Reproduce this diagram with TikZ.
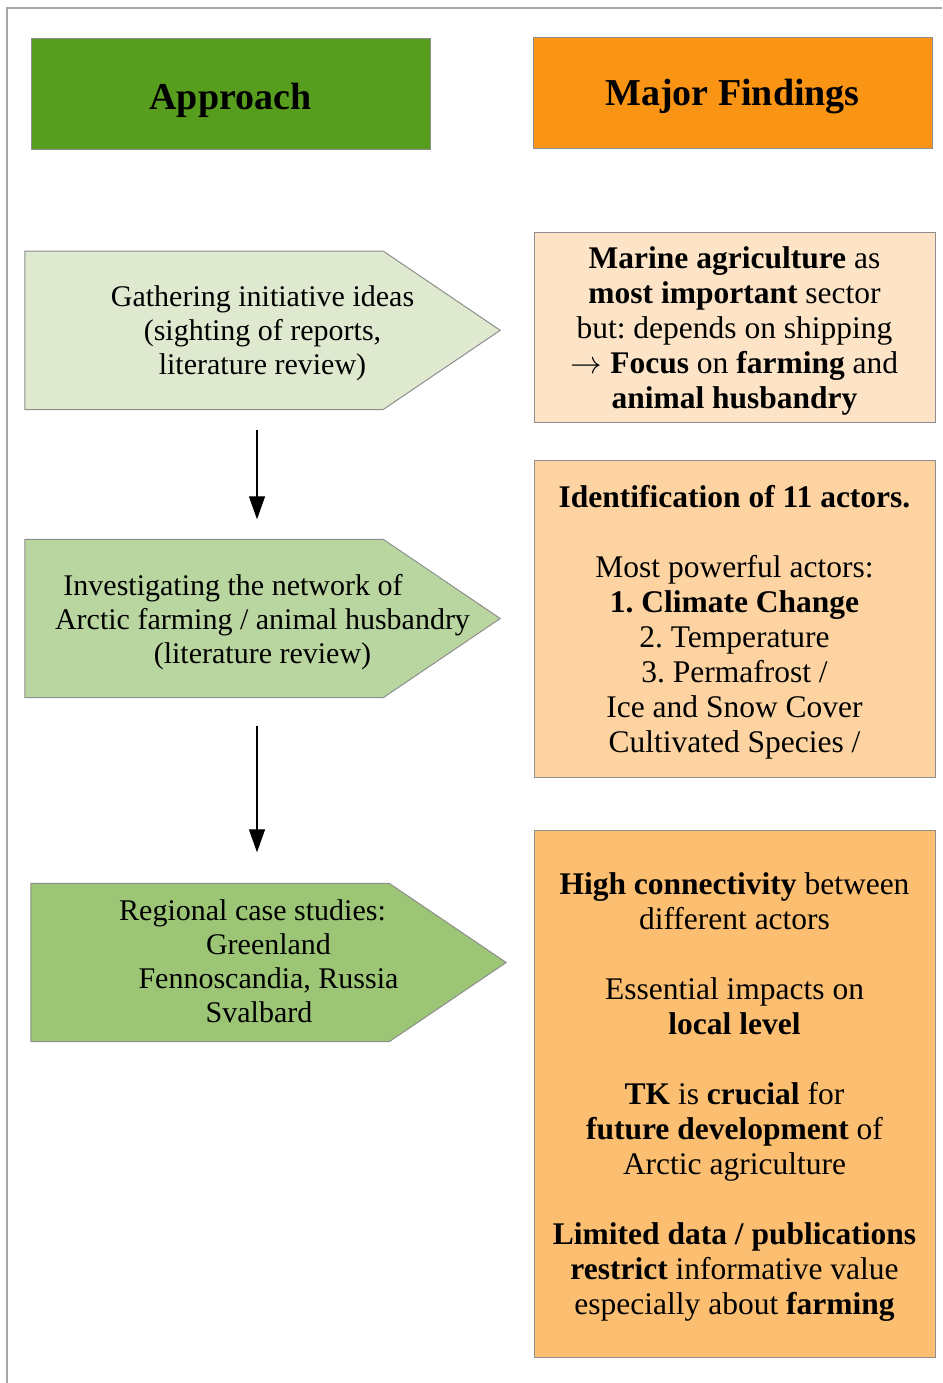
\documentclass[tikz,border=0pt]{standalone}
\usepackage{graphicx}
\usepackage{fontspec}
\setmainfont{Liberation Serif}
\frenchspacing
\usetikzlibrary{arrows.meta,backgrounds}

\definecolor{approachgreen}{HTML}{589E1E}
\definecolor{findingsorange}{HTML}{FA9414}
\definecolor{stageone}{HTML}{DEE9D0}
\definecolor{stagetwo}{HTML}{BAD6A0}
\definecolor{stagethree}{HTML}{9CC575}
\definecolor{findone}{HTML}{FDE4C7}
\definecolor{findtwo}{HTML}{FDD3A1}
\definecolor{findthree}{HTML}{FCBE70}
\definecolor{edgegray}{HTML}{8E8E8E}
\definecolor{framegray}{HTML}{A6A6A6}

% outline of an arrow-shaped stage, taken from the anchors of its frame node
\newcommand\drawstage[2]{%
  \draw[stageshape, fill=#2] (#1.north west) -- ([xshift=-117pt]#1.north east)
    -- (#1.east) -- ([xshift=-117pt]#1.south east) -- (#1.south west) -- cycle;}

% long thin arrow used inside the findings text
\newcommand\thenarrow{\scalebox{1.27}{$\rightarrow$}}

\begin{document}
\begin{tikzpicture}[x=1pt, y=-1pt,
  every node/.style={inner sep=0pt, align=center},
  heading/.style={draw=edgegray, line width=1pt, minimum width=399pt,
    minimum height=111pt},
  headtext/.style={font=\fontsize{38}{44}\selectfont\bfseries},
  stage/.style={minimum width=475pt, minimum height=158pt},
  stagetext/.style={font=\fontsize{30}{34}\selectfont},
  stageshape/.style={draw=edgegray, line width=1pt},
  finding/.style={draw=edgegray, line width=1pt, minimum width=401pt},
  findtext/.style={font=\fontsize{31.5}{35}\selectfont},
  flow/.style={line width=1.3pt, -{Triangle[width=16pt,length=23pt]}},
  pageframe/.style={draw=framegray, line width=1.6pt}
]
\useasboundingbox (0,0) rectangle (942,1383);

% page frame
\draw[pageframe] (7,1383) -- (7,8) -- (942,8);

% column headings
\node[heading, fill=approachgreen] (approach) at (230.5,94.5) {};
\node[headtext] (approachtext) at ([yshift=-6pt]approach.center) {Approach};
\node[heading, fill=findingsorange] (findings) at (732.5,93.5) {};
\node[headtext] (findingstext) at ([yshift=-3pt]findings.center) {Major Findings};

% approach stages
\node[stage] (g1) at (262.5,330.3) {};
\node[stage] (g2) at (262.5,618.5) {};
\node[stage] (g3) at (268.5,962.5) {};
\drawstage{g1}{stageone}
\drawstage{g2}{stagetwo}
\drawstage{g3}{stagethree}

\node[stagetext] (g1text) at ([yshift=-3pt]g1.center) {Gathering initiative ideas\\
  (sighting of reports,\\ literature review)};
\node[stagetext] (g2text) at ([yshift=-3.5pt]g2.center) {Investigating the network of\hspace*{59pt}\\
  Arctic farming / animal husbandry\hspace*{14pt}\\ (literature review)};
\node[stagetext] (g3text) at ([yshift=1.5pt]g3.center) {Regional case studies:\hspace*{32pt}\\
  Greenland\\ Fennoscandia, Russia\\ Svalbard\hspace*{19pt}};

% flow between the stages
\draw[flow] ([xshift=-5.5pt,yshift=-20.5pt]g1.south) -- ([xshift=-5.5pt,yshift=20pt]g2.north);
\draw[flow] ([xshift=-5.5pt,yshift=-28pt]g2.south) -- ([xshift=-11.5pt,yshift=31pt]g3.north);

% findings
\node[finding, fill=findone, minimum height=190pt] (f1) at (734.5,327.7) {};
\node[findtext] (f1text) at ([yshift=-3pt]f1.center) {%
  \textbf{Marine agriculture} as\\
  \textbf{most important} sector\\
  but: depends on shipping\\
  \thenarrow{} \textbf{Focus} on \textbf{farming} and\\
  \textbf{animal husbandry}};

\node[finding, fill=findtwo, minimum height=316.6pt] (f2) at (734.5,619) {};
\node[findtext] (f2text) at ([yshift=-3pt]f2.center) {%
  \textbf{Identification of 11 actors.}\\[35pt]
  Most powerful actors:\\
  \textbf{1. Climate Change}\\
  2. Temperature\\
  3. Permafrost /\\
  Ice and Snow Cover\\
  Cultivated Species /};

\node[finding, fill=findthree, minimum height=527pt] (f3) at (734.5,1093.5) {};
\node[findtext] (f3text) at ([yshift=-4pt]f3.center) {%
  \textbf{High connectivity} between\\
  different actors\\[35pt]
  Essential impacts on\\
  \textbf{local level}\\[35pt]
  \textbf{TK} is \textbf{crucial} for\\
  \textbf{future development} of\\
  Arctic agriculture\\[35pt]
  \textbf{Limited data / publications}\\
  \textbf{restrict} informative value\\
  especially about \textbf{farming}};
\end{tikzpicture}
\end{document}
